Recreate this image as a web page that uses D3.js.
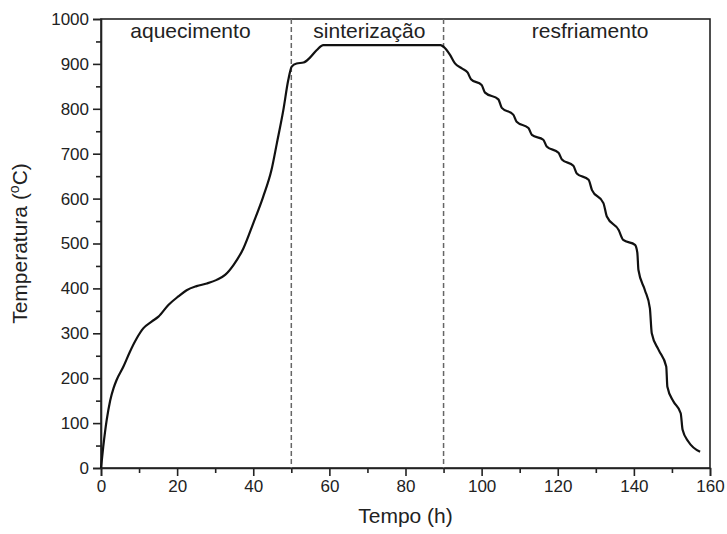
<!DOCTYPE html>
<html>
<head>
<meta charset="utf-8">
<script src="https://cdn.jsdelivr.net/npm/d3@7"></script>
<style>
  body { margin: 0; background: #fff; }
  svg text { font-family: "Liberation Sans", Arial, sans-serif; fill: #222; }
</style>
</head>
<body>
<svg class="chart"></svg>
<script>
// curve: time (h) and temperature (C)
const tempo = [0, 0.6, 1.5, 2.4, 3.3, 4.1, 5.9, 7.6, 9.4, 11.1, 13.3, 15.1, 17.7, 20.3, 22.5, 25.1, 27.8, 30.4, 32.6, 34.8,
	37.4, 40.0, 42.6, 44.8, 46.2, 47.9, 49.2, 50.1, 51.4, 53.2, 54.9, 56.7, 58.4, 89.2,
	90.4, 91.7, 93.0, 94.8, 96.3, 97.2, 100.0, 100.9, 104.4, 105.3, 108.3, 109.2, 112.3, 113.2, 116.2, 117.1,
	120.2, 121.1, 124.1, 125.0, 128.1, 129.0, 132.0, 132.9, 136.0, 137.2, 140.3, 140.9, 141.2, 142.9, 144.2,
	144.7, 146.5, 148.5, 148.8, 150.4, 152.3, 152.8, 154.3, 157.4];
const temperatura = [0, 48, 107, 150, 178, 196, 226, 259, 289, 311, 326, 337, 363, 382, 396, 405, 411, 419, 430, 452,
	489, 545, 604, 664, 723, 797, 864, 894, 901, 903, 914, 931, 942, 942,
	935, 920, 901, 890, 881, 866, 853, 836, 821, 802, 787, 771, 757, 742, 731, 716,
	702, 687, 673, 656, 642, 619, 590, 560, 530, 508, 497, 480, 441, 396, 356,
	300, 263, 226, 181, 148, 122, 85, 59, 36];

const fases = ["aquecimento", "sinterização", "resfriamento"];
const faseX = [23.5, 70.5, 128.5];
const limites = [50, 90];

const xTicks = [0, 20, 40, 60, 80, 100, 120, 140, 160];
const yTicks = [0, 100, 200, 300, 400, 500, 600, 700, 800, 900, 1000];

const size = { w: 727, h: 534 };
const margin = { t: 19, r: 17, b: 66, l: 101 };
const font = "'Liberation Sans', Arial, sans-serif";

const svg = d3.select("svg.chart").attr("width", size.w).attr("height", size.h);
const g = svg.append("g");

const xScale = d3.scaleLinear().domain([0, 160]).range([margin.l, size.w - margin.r]);
const yScale = d3.scaleLinear().domain([0, 1000]).range([size.h - margin.b, margin.t]);

// frame
g.append("rect")
	.attr("x", xScale(0)).attr("y", yScale(1000))
	.attr("width", xScale(160) - xScale(0)).attr("height", yScale(0) - yScale(1000))
	.attr("fill", "none").attr("stroke", "#222").attr("stroke-width", 1.6);

// minor ticks
g.append("g")
	.attr("transform", `translate(0,${yScale(0)})`)
	.call(d3.axisBottom(xScale).tickValues(d3.range(10, 160, 20)).tickSize(5).tickFormat(""))
	.call((a) => a.select(".domain").remove());
g.append("g")
	.attr("transform", `translate(${xScale(0)},0)`)
	.call(d3.axisLeft(yScale).tickValues(d3.range(50, 1000, 100)).tickSize(5).tickFormat(""))
	.call((a) => a.select(".domain").remove());

const xAxis = g.append("g")
	.attr("transform", `translate(0,${yScale(0)})`)
	.call(d3.axisBottom(xScale).tickValues(xTicks).tickFormat(d3.format("d")).tickSize(8).tickPadding(4));
const yAxis = g.append("g")
	.attr("transform", `translate(${xScale(0)},0)`)
	.call(d3.axisLeft(yScale).tickValues(yTicks).tickFormat(d3.format("d")).tickSize(8).tickPadding(4));

g.selectAll("g").attr("font-family", font);
g.selectAll(".tick line").attr("stroke", "#222").attr("stroke-width", 1.6);
g.selectAll(".domain").attr("stroke", "#222").attr("stroke-width", 1.6);
g.selectAll(".tick text").style("font-size", "17px").style("font-family", font).attr("fill", "#222");

// phase boundaries
g.selectAll("line.limite")
	.data(limites)
	.join("line")
	.attr("class", "limite")
	.attr("x1", (d) => xScale(d)).attr("x2", (d) => xScale(d))
	.attr("y1", yScale(1000)).attr("y2", yScale(0))
	.attr("stroke", "#666").attr("stroke-width", 1.5)
	.attr("stroke-dasharray", "5,3");

// phase labels
g.selectAll("text.fase")
	.data(fases)
	.join("text")
	.attr("class", "fase")
	.attr("x", (d, i) => xScale(faseX[i]))
	.attr("y", yScale(1000) + 19)
	.attr("text-anchor", "middle")
	.style("font-size", "21px")
	.style("font-family", font)
	.text((d) => d);

// curve
const pts = tempo.map((t, i) => [t, temperatura[i]]);
const line = d3.line()
	.x((d) => xScale(d[0]))
	.y((d) => yScale(d[1]))
	.curve(d3.curveMonotoneX);
g.append("path")
	.datum(pts)
	.attr("d", line)
	.attr("fill", "none")
	.attr("stroke", "#111")
	.attr("stroke-width", 2.2)
	.attr("stroke-linejoin", "round");

// axis titles
g.append("text")
	.attr("x", (xScale(0) + xScale(160)) / 2)
	.attr("y", 523)
	.attr("text-anchor", "middle")
	.style("font-size", "21px")
	.style("font-family", font)
	.text("Tempo (h)");

const yLabel = g.append("text")
	.attr("transform", `translate(27,${(yScale(0) + yScale(1000)) / 2}) rotate(-90)`)
	.attr("text-anchor", "middle")
	.style("font-size", "21px")
	.style("font-family", font);
yLabel.append("tspan").text("Temperatura (");
yLabel.append("tspan").attr("dy", -8).style("font-size", "14px").text("o");
yLabel.append("tspan").attr("dy", 8).text("C)");
</script>
</body>
</html>
